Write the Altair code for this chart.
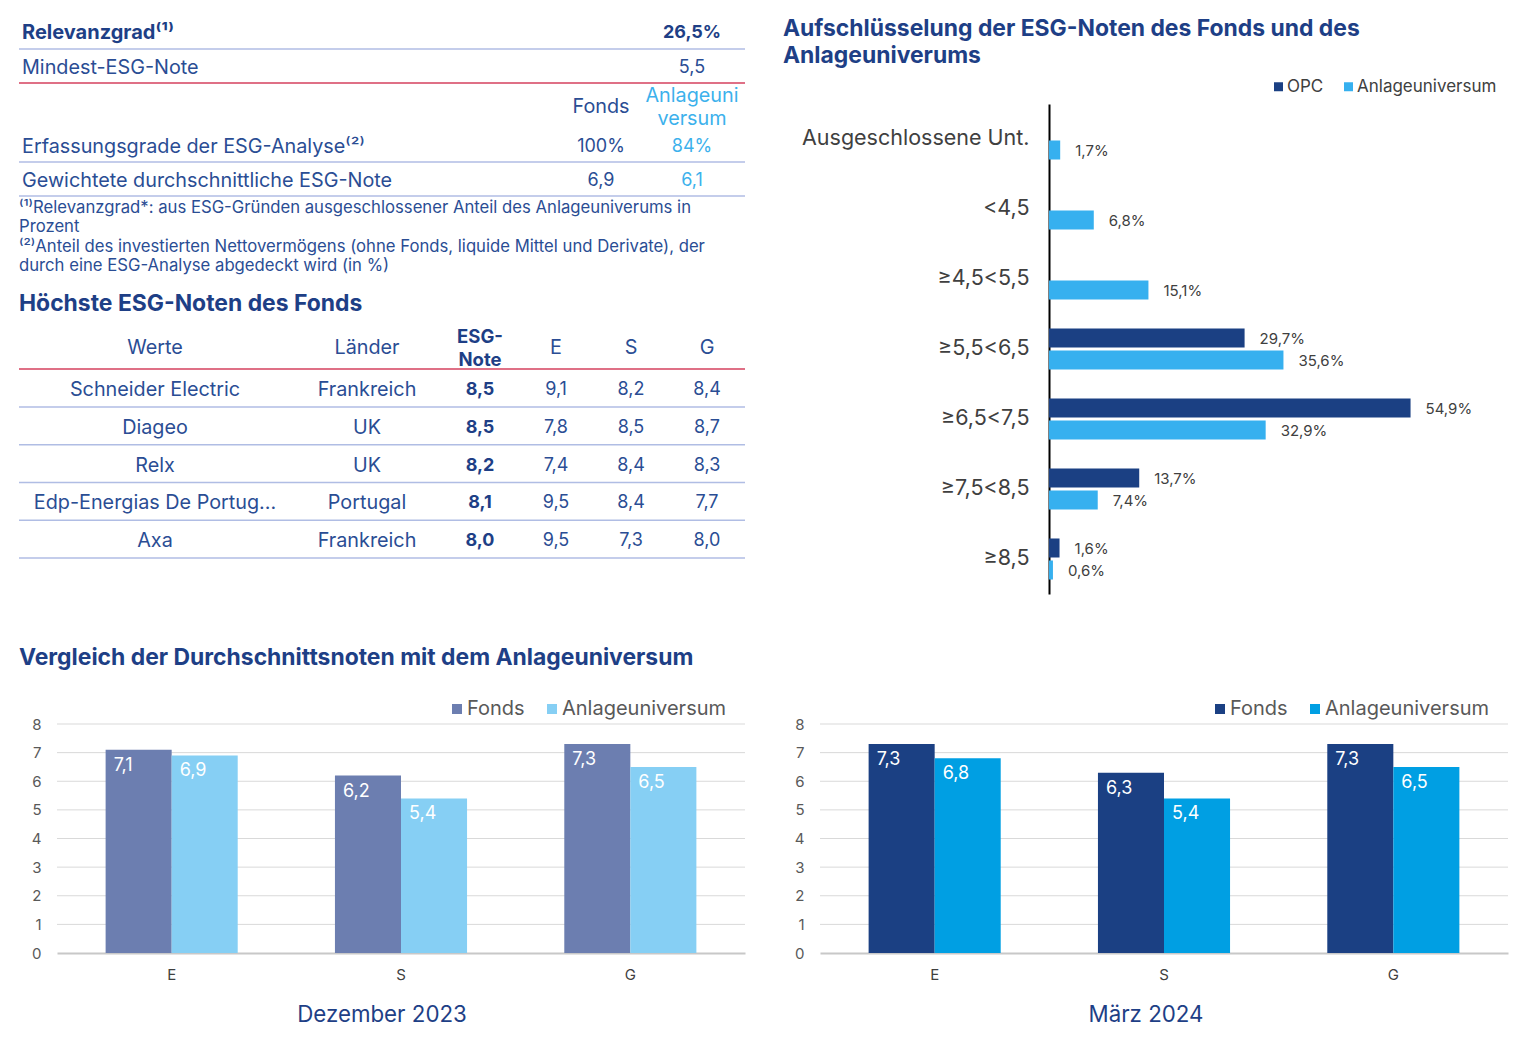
import altair as alt
import pandas as pd

# ---------------- data ----------------
kpi_labels = ["Relevanzgrad⁽¹⁾", "Mindest-ESG-Note"]
kpi_values = ["26,5%", "5,5"]
coverage_header = ["Fonds", "Anlageuni\nversum"]
coverage_labels = ["Erfassungsgrade der ESG-Analyse⁽²⁾", "Gewichtete durchschnittliche ESG-Note"]
coverage_fonds = ["100%", "6,9"]
coverage_univ = ["84%", "6,1"]
footnotes = [
    "⁽¹⁾Relevanzgrad*: aus ESG-Gründen ausgeschlossener Anteil des Anlageuniverums in",
    "Prozent",
    "⁽²⁾Anteil des investierten Nettovermögens (ohne Fonds, liquide Mittel und Derivate), der",
    "durch eine ESG-Analyse abgedeckt wird (in %)",
]

hold_header = ["Werte", "Länder", "ESG-\nNote", "E", "S", "G"]
hold_werte = ["Schneider Electric", "Diageo", "Relx", "Edp-Energias De Portug...", "Axa"]
hold_laender = ["Frankreich", "UK", "UK", "Portugal", "Frankreich"]
hold_esg = ["8,5", "8,5", "8,2", "8,1", "8,0"]
hold_e = ["9,1", "7,8", "7,4", "9,5", "9,5"]
hold_s = ["8,2", "8,5", "8,4", "8,4", "7,3"]
hold_g = ["8,4", "8,7", "8,3", "7,7", "8,0"]

dist_cats = ["Ausgeschlossene Unt.", "<4,5", "≥4,5<5,5", "≥5,5<6,5", "≥6,5<7,5", "≥7,5<8,5", "≥8,5"]
dist_series = ["OPC", "Anlageuniversum"]
dist_opc = [None, None, None, 29.7, 54.9, 13.7, 1.6]
dist_univ = [1.7, 6.8, 15.1, 35.6, 32.9, 7.4, 0.6]

pillars = ["E", "S", "G"]
avg_series = ["Fonds", "Anlageuniversum"]
dec_fonds = [7.1, 6.2, 7.3]
dec_univ = [6.9, 5.4, 6.5]
mar_fonds = [7.3, 6.3, 7.3]
mar_univ = [6.8, 5.4, 6.5]
score_ticks = [0, 1, 2, 3, 4, 5, 6, 7, 8]

titles_text = {
    "hold": "Höchste ESG-Noten des Fonds",
    "dist1": "Aufschlüsselung der ESG-Noten des Fonds und des",
    "dist2": "Anlageuniverums",
    "avg": "Vergleich der Durchschnittsnoten mit dem Anlageuniversum",
    "dec": "Dezember 2023",
    "mar": "März 2024",
}

# ---------------- style / layout ----------------
FONT = "Inter"
NAVY = "#1e3f86"
BODY = "#2a4d94"
LIGHT_TXT = "#3cb1ec"
GRAY = "#404040"
GRAY2 = "#595959"
LAV = "#b0bde4"
RED = "#d5405e"
DARK = "#1b4083"
LIGHT = "#36b0ef"
MAR_LIGHT = "#009fe3"
DEC_DARK = "#6c7eb0"
DEC_LIGHT = "#86cff4"
GRID = "#d9d9d9"

TXT = 19.8   # table text
NUM = 18     # table numbers
TTL = 22.9   # section titles

OX, OY = 8, 8
W, H = 1505, 1028


def px(v):
    return v - OX


def py(v):
    return v - OY


def T(size=18, color=BODY, weight="normal", align="left", baseline="middle", dy=2, **kw):
    return dict(font=FONT, fontSize=size, color=color, fontWeight=weight,
                align=align, baseline=baseline, dy=dy, **kw)


def fmt(v, suffix=""):
    return f"{v:.1f}".replace(".", ",") + suffix


# ---------------- summary table ----------------
sx = alt.Scale(domain=[0, 1, 2], range=[px(22), px(601), px(692)], nice=False, zero=False)
sy = alt.Scale(domain=[0, 1, 2, 3, 4], range=[py(31), py(66), py(105), py(145), py(179)],
               nice=False, zero=False)

kpi_df = pd.DataFrame({"row": [0, 1], "label": kpi_labels, "value": kpi_values})
cov_df = pd.DataFrame({"row": [3, 4], "label": coverage_labels,
                       "fonds": coverage_fonds, "univ": coverage_univ})
head_df = pd.DataFrame({"col": [1, 2], "text": coverage_header})

SY = alt.Y("row:Q", scale=sy, axis=None)


def SXd(c):
    return alt.XDatum(c, type="quantitative", scale=sx, axis=None)


def SYd(r):
    return alt.YDatum(r, type="quantitative", scale=sy, axis=None)


base_kpi = alt.Chart(kpi_df)
base_cov = alt.Chart(cov_df)
summary = alt.layer(
    base_kpi.transform_filter("datum.row == 0").mark_text(**T(20, NAVY, "bold")).encode(
        x=SXd(0), y=SY, text="label:N"),
    base_kpi.transform_filter("datum.row == 1").mark_text(**T(TXT, BODY)).encode(
        x=SXd(0), y=SY, text="label:N"),
    base_kpi.transform_filter("datum.row == 0").mark_text(**T(NUM, NAVY, "bold", "center")).encode(
        x=SXd(2), y=SY, text="value:N"),
    base_kpi.transform_filter("datum.row == 1").mark_text(**T(NUM, BODY, align="center")).encode(
        x=SXd(2), y=SY, text="value:N"),
    alt.Chart(head_df).transform_filter("datum.col == 1").mark_text(**T(TXT, BODY, align="center")).encode(
        x=alt.X("col:Q", scale=sx, axis=None), y=SYd(2), text="text:N"),
    alt.Chart(head_df).transform_filter("datum.col == 2").mark_text(
        **T(TXT, LIGHT_TXT, align="center", dy=-9.5, lineBreak="\n", lineHeight=23)).encode(
        x=alt.X("col:Q", scale=sx, axis=None), y=SYd(2), text="text:N"),
    base_cov.mark_text(**T(TXT, BODY)).encode(x=SXd(0), y=SY, text="label:N"),
    base_cov.mark_text(**T(NUM, BODY, align="center")).encode(x=SXd(1), y=SY, text="fonds:N"),
    base_cov.mark_text(**T(NUM, LIGHT_TXT, align="center")).encode(x=SXd(2), y=SY, text="univ:N"),
    base_kpi.transform_filter("datum.row == 0").mark_rule(yOffset=18, stroke=LAV, strokeWidth=1.3).encode(
        y=SY, x=alt.value(px(19)), x2=alt.value(px(745))),
    base_kpi.transform_filter("datum.row == 1").mark_rule(yOffset=17, stroke=RED, strokeWidth=1.3).encode(
        y=SY, x=alt.value(px(19)), x2=alt.value(px(745))),
    base_cov.mark_rule(yOffset=17, stroke=LAV, strokeWidth=1.3).encode(
        y=SY, x=alt.value(px(19)), x2=alt.value(px(745))),
)

# footnotes
fn_df = pd.DataFrame({"line": list(range(len(footnotes))), "text": footnotes})
footnote_layer = alt.Chart(fn_df).mark_text(**T(16.7, BODY)).encode(
    x=alt.value(px(19)),
    y=alt.Y("line:Q", scale=alt.Scale(domain=[0, 3], range=[py(206), py(264)], nice=False, zero=False),
            axis=None),
    text="text:N",
)

# ---------------- holdings table ----------------
hx = alt.Scale(domain=[0, 1, 2, 3, 4, 5],
               range=[px(155), px(367), px(480), px(556), px(631), px(707)], nice=False, zero=False)
hy = alt.Scale(domain=[0, 1, 5], range=[py(346), py(388), py(539)], nice=False, zero=False)

hh_df = pd.DataFrame({"row": 0, "col": list(range(6)), "text": hold_header})
hb_rows = []
for i, vals in enumerate(zip(hold_werte, hold_laender, hold_esg, hold_e, hold_s, hold_g)):
    for c, v in enumerate(vals):
        hb_rows.append({"row": i + 1, "col": c, "text": v})
hb_df = pd.DataFrame(hb_rows)

HX = alt.X("col:Q", scale=hx, axis=None)
HY = alt.Y("row:Q", scale=hy, axis=None)
holdings = alt.layer(
    alt.Chart(hh_df).transform_filter("datum.col != 2").mark_text(**T(TXT, BODY, align="center")).encode(
        x=HX, y=HY, text="text:N"),
    alt.Chart(hh_df).transform_filter("datum.col == 2").mark_text(
        **T(18.5, NAVY, "bold", "center", dy=-9.5, lineBreak="\n", lineHeight=23)).encode(
        x=HX, y=HY, text="text:N"),
    alt.Chart(hb_df).transform_filter("datum.col <= 1").mark_text(**T(TXT, BODY, align="center")).encode(
        x=HX, y=HY, text="text:N"),
    alt.Chart(hb_df).transform_filter("datum.col >= 3").mark_text(**T(NUM, BODY, align="center")).encode(
        x=HX, y=HY, text="text:N"),
    alt.Chart(hb_df).transform_filter("datum.col == 2").mark_text(**T(NUM, NAVY, "bold", "center")).encode(
        x=HX, y=HY, text="text:N"),
    alt.Chart(hh_df).transform_filter("datum.col == 0").mark_rule(yOffset=23, stroke=RED, strokeWidth=1.3).encode(
        y=HY, x=alt.value(px(19)), x2=alt.value(px(745))),
    alt.Chart(hb_df).transform_filter("datum.col == 0").mark_rule(yOffset=19, stroke=LAV, strokeWidth=1.3).encode(
        y=HY, x=alt.value(px(19)), x2=alt.value(px(745))),
)

# ---------------- distribution chart ----------------
d_rows = []
for cat, o, u in zip(dist_cats, dist_opc, dist_univ):
    if o is not None:
        d_rows.append({"cat": cat, "series": "OPC", "value": o, "label": fmt(o, "%")})
    d_rows.append({"cat": cat, "series": "Anlageuniversum", "value": u, "label": fmt(u, "%")})
dist_df = pd.DataFrame(d_rows)

DY = alt.Y("cat:N", sort=dist_cats,
           scale=alt.Scale(domain=dist_cats, range=[py(104), py(594)], paddingInner=0.414, paddingOuter=0.207),
           axis=alt.Axis(orient="left", offset=-px(1049), title=None, ticks=False, grid=False,
                         labelFont=FONT, labelFontSize=21.5, labelColor=GRAY, labelPadding=20,
                         labelLimit=400, domainColor="black", domainWidth=2))
DYO = alt.YOffset("series:N", sort=dist_series,
                  scale=alt.Scale(domain=dist_series, paddingInner=0.136, paddingOuter=0))
DX = alt.X("value:Q", scale=alt.Scale(domain=[0, 70], range=[px(1049), px(1510)], nice=False), axis=None)
dist = alt.layer(
    alt.Chart(dist_df).mark_bar().encode(
        x=DX, y=DY, yOffset=DYO,
        color=alt.Color("series:N", sort=dist_series,
                        scale=alt.Scale(domain=dist_series, range=[DARK, LIGHT]),
                        legend=alt.Legend(orient="none", legendX=px(1270), legendY=py(78),
                                          direction="horizontal", title=None, symbolType="square",
                                          symbolSize=81, symbolStrokeWidth=0, labelFont=FONT,
                                          labelFontSize=17, labelColor=GRAY, labelOffset=0,
                                          labelLimit=300, columnPadding=16, padding=0)),
    ),
    alt.Chart(dist_df).mark_text(**T(15, GRAY, dx=15, dy=1)).encode(x=DX, y=DY, yOffset=DYO, text="label:N"),
)


# ---------------- average score charts ----------------
def avg_chart(fonds, univ, x0, x1, colors, leg_x):
    rows = []
    for p, f, u in zip(pillars, fonds, univ):
        rows.append({"pillar": p, "series": "Fonds", "score": f, "label": fmt(f)})
        rows.append({"pillar": p, "series": "Anlageuniversum", "score": u, "label": fmt(u)})
    df = pd.DataFrame(rows)
    grid_df = pd.DataFrame({"score": score_ticks[1:]})
    XS = alt.X("pillar:N", sort=pillars,
               scale=alt.Scale(domain=pillars, range=[px(x0), px(x1)], paddingInner=0.424, paddingOuter=0.212),
               axis=alt.Axis(orient="bottom", offset=py(953) - H, title=None, ticks=False, grid=False,
                             labelAngle=0, labelFont=FONT, labelFontSize=15, labelColor=GRAY,
                             labelPadding=14, domainColor="#c8c8c8", domainWidth=2))
    XO = alt.XOffset("series:N", sort=avg_series,
                     scale=alt.Scale(domain=avg_series, paddingInner=0, paddingOuter=0))
    YS = alt.Y("score:Q", scale=alt.Scale(domain=[0, 8], range=[py(953), py(724)], nice=False),
               axis=alt.Axis(orient="left", offset=-px(x0), title=None, ticks=False, grid=False,
                             domain=False, values=score_ticks, labelFont=FONT, labelFontSize=15,
                             labelColor=GRAY2, labelPadding=16))
    return alt.layer(
        alt.Chart(grid_df).mark_rule(stroke=GRID, strokeWidth=1).encode(
            y=YS, x=alt.value(px(x0)), x2=alt.value(px(x1))),
        alt.Chart(df).mark_bar().encode(
            x=XS, xOffset=XO, y=YS,
            color=alt.Color("series:N", sort=avg_series,
                            scale=alt.Scale(domain=avg_series, range=colors),
                            legend=alt.Legend(orient="none", legendX=px(leg_x), legendY=py(699),
                                              direction="horizontal", title=None, symbolType="square",
                                              symbolSize=100, symbolStrokeWidth=0, labelFont=FONT,
                                              labelFontSize=20, labelColor=GRAY2, labelOffset=0,
                                              labelLimit=300, columnPadding=17, padding=0)),
        ),
        alt.Chart(df).mark_text(**T(18, "white", dx=-25, dy=16)).encode(
            x=XS, xOffset=XO, y=YS, text="label:N"),
    )


dec = avg_chart(dec_fonds, dec_univ, 57, 745, [DEC_DARK, DEC_LIGHT], 447)
mar = avg_chart(mar_fonds, mar_univ, 820, 1508, [DARK, MAR_LIGHT], 1210)

# ---------------- titles ----------------
def title(key, x, y, size=TTL, color=NAVY, weight="bold", align="left"):
    return alt.Chart(pd.DataFrame({"t": [titles_text[key]]})).mark_text(
        **T(size, color, weight, align)).encode(x=alt.value(px(x)), y=alt.value(py(y)), text="t:N")


titles = [
    title("hold", 19, 302),
    title("dist1", 783, 27),
    title("dist2", 783, 54),
    title("avg", 19, 656),
    title("dec", 382, 1013, size=22.3, weight="normal", align="center"),
    title("mar", 1146, 1013, size=22.3, weight="normal", align="center"),
]

chart = alt.layer(summary, footnote_layer, holdings, dist, dec, mar, *titles).resolve_scale(
    x="independent", y="independent", xOffset="independent", yOffset="independent", color="independent"
).resolve_axis(x="independent", y="independent").resolve_legend(color="independent").properties(
    width=W, height=H, autosize=alt.AutoSizeParams(type="none"), padding=0
).configure_view(stroke=None)

chart.save("out.html", embed_options={"renderer": "svg", "actions": False})
